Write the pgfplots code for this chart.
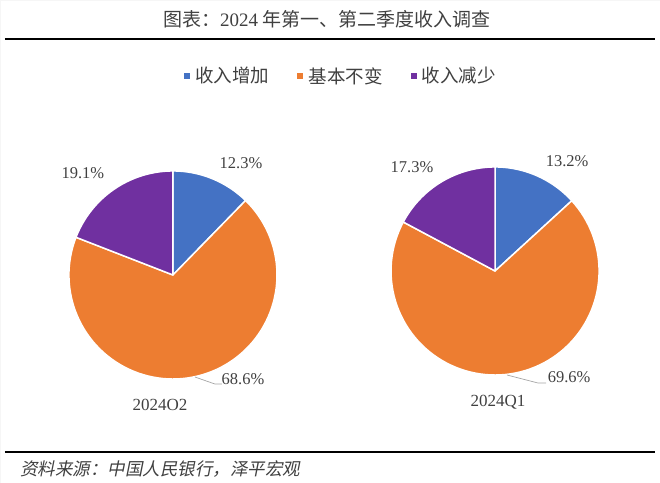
\documentclass[border=0pt]{standalone}
\usepackage{fontspec}
\setmainfont{Liberation Serif}
\newfontfamily\cjk{Noto Sans CJK SC}
\newfontfamily\cjkit[FakeSlant=0.2]{Noto Sans CJK SC}
\usepackage{pgfplots}
\pgfplotsset{compat=1.18}
\definecolor{cblue}{HTML}{4472C4}
\definecolor{corange}{HTML}{ED7D31}
\definecolor{cpurple}{HTML}{7030A0}
\definecolor{txt}{HTML}{404040}
\definecolor{lead}{HTML}{A5A5A5}
\definecolor{edge}{HTML}{F6F6F6}
% data (percent)
\def\LB{12.3}\def\LO{68.6}\def\LP{19.1}   % 2024Q2
\def\RB{13.2}\def\RO{69.6}\def\RP{17.3}   % 2024Q1
\newcommand{\pieslice}[6]{%
  \addplot[fill=#6, draw=white, line width=1.5pt, line join=round, domain=#4:#5, samples=90, #1]
    ({#2+104*cos(x)},{#3+104*sin(x)}) -- (axis cs:#2,#3) -- cycle;}
\begin{document}
\begin{tikzpicture}
\pgfmathsetmacro\LaA{90-3.6*\LB}
\pgfmathsetmacro\LaB{\LaA-3.6*\LO}
\pgfmathsetmacro\RaA{90-3.6*\RB}
\pgfmathsetmacro\RaB{\RaA-3.6*\RO}
\begin{axis}[width=660pt, height=483pt, scale only axis,
  xmin=0, xmax=660, ymin=0, ymax=483, hide axis, clip=false,
  legend columns=3,
  legend style={at={(axis cs:341,407)}, anchor=center, draw=none, fill=none,
    font=\fontsize{18.5}{20}\selectfont\cjk\color{txt}, inner sep=0pt,
    /tikz/every odd column/.style={column sep=3pt},
    /tikz/every even column/.style={column sep=26pt}},
  legend image code/.code={\fill[#1, draw=none] (0pt,-3pt) rectangle (6pt,3pt);},
]
% faint page edge (keeps the full canvas)
\addplot[forget plot, edge, line width=0.4pt] coordinates {(0.3,0.3) (659.7,0.3) (659.7,482.7) (0.3,482.7) (0.3,0.3)};
% left pie (2024O2)
\pieslice{}{173}{208}{\LaA}{90}{cblue}
\addlegendentry{收入增加}
\pieslice{}{173}{208}{\LaB}{\LaA}{corange}
\addlegendentry{基本不变}
\pieslice{}{173}{208}{-270}{\LaB}{cpurple}
\addlegendentry{收入减少}
% right pie (2024Q1)
\pieslice{forget plot}{495}{212}{\RaA}{90}{cblue}
\pieslice{forget plot}{495}{212}{\RaB}{\RaA}{corange}
\pieslice{forget plot}{495}{212}{-270}{\RaB}{cpurple}
% leader lines
\addplot[forget plot, lead, line width=0.7pt] coordinates {(195,106) (215,99) (222,99)};
\addplot[forget plot, lead, line width=0.7pt] coordinates {(507,108) (538,100) (546,100)};
% rules
\addplot[forget plot, black, line width=2.2pt] coordinates {(5,443.7) (655,443.7)};
\addplot[forget plot, black, line width=2.2pt] coordinates {(5,31) (655,31)};
% labels
\begin{scope}[every node/.style={text=txt, inner sep=0pt, font=\fontsize{16.5}{18}\selectfont}]
\node at (axis cs:241,319.5) {\LB\%};
\node at (axis cs:83,310) {\LP\%};
\node at (axis cs:243,104) {\LO\%};
\node at (axis cs:567,322) {\RB\%};
\node at (axis cs:412,316) {\RP\%};
\node at (axis cs:569,106) {\RO\%};
\node[font=\fontsize{17}{19}\selectfont] at (axis cs:160,78) {2024O2};
\node[font=\fontsize{17}{19}\selectfont] at (axis cs:498,81) {2024Q1};
\end{scope}
\node[text=txt, inner sep=0pt, anchor=west, font=\fontsize{19}{21}\selectfont] at (axis cs:163,464)
  {{\cjk 图表：}2024{\cjk\ 年第一、第二季度收入调查}};
\node[text=txt, inner sep=0pt, anchor=west, font=\fontsize{17.5}{20}\selectfont\cjkit] at (axis cs:20,14.5)
  {资料来源：中国人民银行，泽平宏观};
\end{axis}
\end{tikzpicture}
\end{document}
